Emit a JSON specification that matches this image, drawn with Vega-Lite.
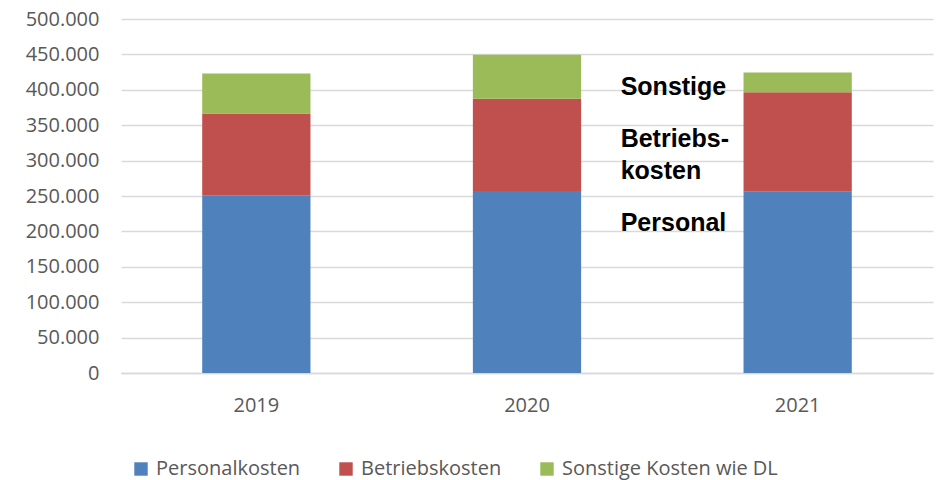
{
  "$schema": "https://vega.github.io/schema/vega-lite/v6.json",
  "autosize": {"type": "none"},
  "width": 812,
  "height": 354,
  "padding": {"left": 121, "top": 19, "right": 5, "bottom": 107},
  "config": {
    "locale": {"number": {"decimal": ",", "thousands": ".", "grouping": [3], "currency": ["", " €"]}},
    "view": {"stroke": null},
    "font": "Open Sans"
  },
  "datasets": {
    "costs": [
      {"year": "2019", "kategorie": "Personalkosten", "idx": 1, "wert": 251000},
      {"year": "2019", "kategorie": "Betriebskosten", "idx": 2, "wert": 115500},
      {"year": "2019", "kategorie": "Sonstige Kosten wie DL", "idx": 3, "wert": 56500},
      {"year": "2020", "kategorie": "Personalkosten", "idx": 1, "wert": 257000},
      {"year": "2020", "kategorie": "Betriebskosten", "idx": 2, "wert": 130500},
      {"year": "2020", "kategorie": "Sonstige Kosten wie DL", "idx": 3, "wert": 62000},
      {"year": "2021", "kategorie": "Personalkosten", "idx": 1, "wert": 256000},
      {"year": "2021", "kategorie": "Betriebskosten", "idx": 2, "wert": 140500},
      {"year": "2021", "kategorie": "Sonstige Kosten wie DL", "idx": 3, "wert": 28000}
    ],
    "labels": [
      {"year": "2021", "label": "Sonstige", "wert": 392000},
      {"year": "2021", "label": "Betriebs-|kosten", "wert": 319000},
      {"year": "2021", "label": "Personal", "wert": 201000}
    ]
  },
  "layer": [
    {
      "data": {"name": "costs"},
      "mark": {"type": "bar"},
      "encoding": {
        "x": {
          "field": "year", "type": "nominal",
          "scale": {"paddingInner": 0.6, "paddingOuter": 0.3},
          "axis": {"title": null, "labelAngle": 0, "ticks": false, "domain": true, "domainColor": "#d9d9d9", "domainWidth": 1.5, "labelPadding": 22, "labelFontSize": 20, "labelColor": "#595959", "labelFont": "Open Sans"}
        },
        "y": {
          "field": "wert", "type": "quantitative", "stack": "zero",
          "scale": {"domain": [0, 500000], "nice": false},
          "axis": {"title": null, "values": [0, 50000, 100000, 150000, 200000, 250000, 300000, 350000, 400000, 450000, 500000], "format": ",d", "labelOverlap": false, "ticks": false, "domain": false, "grid": true, "gridColor": "#d9d9d9", "gridWidth": 1.5, "labelPadding": 22, "labelFontSize": 20, "labelColor": "#595959", "labelFont": "Open Sans"}
        },
        "color": {
          "field": "kategorie", "type": "nominal",
          "scale": {"domain": ["Personalkosten", "Betriebskosten", "Sonstige Kosten wie DL"], "range": ["#4f81bd", "#c0504d", "#9bbb59"]},
          "legend": {"title": null, "orient": "none", "direction": "horizontal", "legendX": 10, "legendY": 440, "symbolType": "square", "symbolSize": 180, "symbolStrokeWidth": 0, "labelFontSize": 20, "labelColor": "#595959", "labelFont": "Open Sans", "labelOffset": 5, "columnPadding": 35, "labelLimit": 400}
        },
        "order": {"field": "idx", "type": "quantitative"}
      }
    },
    {
      "data": {"name": "labels"},
      "mark": {"type": "text", "align": "left", "baseline": "alphabetic", "dx": -177, "font": "Liberation Sans", "fontWeight": "bold", "fontSize": 25, "color": "#000000", "lineBreak": "|", "lineHeight": 32},
      "encoding": {
        "x": {
          "field": "year", "type": "nominal",
          "axis": {"title": null, "labelAngle": 0, "ticks": false, "domain": true, "domainColor": "#d9d9d9", "domainWidth": 1.5, "labelPadding": 22, "labelFontSize": 20, "labelColor": "#595959", "labelFont": "Open Sans"}
        },
        "y": {
          "field": "wert", "type": "quantitative",
          "axis": {"title": null, "values": [0, 50000, 100000, 150000, 200000, 250000, 300000, 350000, 400000, 450000, 500000], "format": ",d", "labelOverlap": false, "ticks": false, "domain": false, "grid": true, "gridColor": "#d9d9d9", "gridWidth": 1.5, "labelPadding": 22, "labelFontSize": 20, "labelColor": "#595959", "labelFont": "Open Sans"}
        },
        "text": {"field": "label", "type": "nominal"}
      }
    }
  ]
}
